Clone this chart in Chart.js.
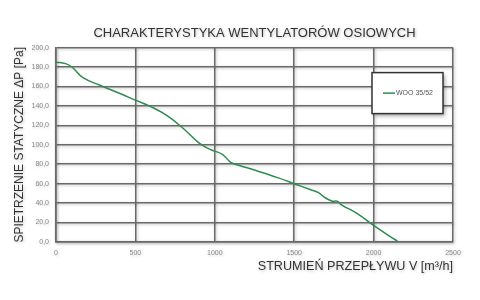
<!DOCTYPE html>
<html>
<head>
<meta charset="utf-8">
<script src="https://cdn.jsdelivr.net/npm/chart.js@4/dist/chart.umd.min.js"></script>
<style>
  html, body { margin: 0; padding: 0; background: #fff; }
  #wrap { width: 480px; height: 300px; }
</style>
</head>
<body>
<div id="wrap"><canvas id="fan-chart" width="480" height="300"></canvas></div>
<script>
const flowRates = [0, 60, 100, 170, 280, 400, 500, 600, 700, 800, 900, 960, 1000, 1050, 1100, 1150, 1250, 1400, 1500, 1600, 1650, 1700, 1740, 1770, 1800, 1900, 2000, 2100, 2150];
const staticPressure = [185, 183.5, 180, 169, 161, 153, 146, 139, 130, 117, 102, 96, 93.5, 90, 82, 79, 74, 66, 60, 54, 51, 45, 42, 42, 38, 29, 17, 6, 1];
const seriesLabel = "WOO 35/52";
const yTickLabels = ["0,0", "20,0", "40,0", "60,0", "80,0", "100,0", "120,0", "140,0", "160,0", "180,0", "200,0"];
const xTickLabels = ["0", "500", "1000", "1500", "2000", "2500"];

const GRID_COLOR = "#6a6a6a";
const TICK_COLOR = "#8a8a8a";
const LINE_COLOR = "#2e8c4f";
const FONT = "'Liberation Sans', Arial, sans-serif";

// soft shadow under the grid and labels, like the original print
const shadowPlugin = {
  id: "gridShadow",
  beforeDraw(chart) {
    const ctx = chart.ctx;
    ctx.shadowColor = "rgba(0, 0, 0, 0.25)";
    ctx.shadowBlur = 3;
    ctx.shadowOffsetX = 1;
    ctx.shadowOffsetY = 1;
  },
  beforeDatasetsDraw(chart) {
    const ctx = chart.ctx;
    ctx.shadowColor = "rgba(0, 0, 0, 0)";
    ctx.shadowBlur = 0;
    ctx.shadowOffsetX = 0;
    ctx.shadowOffsetY = 0;
  }
};

// legend box floating in the top right of the plot
const boxLegendPlugin = {
  id: "boxLegend",
  afterDatasetsDraw(chart) {
    const { ctx, chartArea } = chart;
    const ds = chart.data.datasets[0];
    const x = chartArea.right - 81;
    const y = chartArea.top + 25;
    const w = 71;
    const h = 41;
    ctx.save();
    ctx.shadowColor = "rgba(0, 0, 0, 0.35)";
    ctx.shadowBlur = 4;
    ctx.shadowOffsetX = 2;
    ctx.shadowOffsetY = 2;
    ctx.fillStyle = "#fff";
    ctx.fillRect(x, y, w, h);
    ctx.shadowColor = "rgba(0, 0, 0, 0)";
    ctx.strokeStyle = "#333";
    ctx.lineWidth = 1.5;
    ctx.strokeRect(x, y, w, h);
    ctx.strokeStyle = ds.borderColor;
    ctx.lineWidth = 1.5;
    ctx.beginPath();
    ctx.moveTo(x + 11, y + h / 2);
    ctx.lineTo(x + 23, y + h / 2);
    ctx.stroke();
    ctx.fillStyle = "#555";
    ctx.font = "7px " + FONT;
    ctx.textBaseline = "middle";
    ctx.fillText(ds.label, x + 24, y + h / 2);
    ctx.restore();
  }
};

new Chart(document.getElementById("fan-chart").getContext("2d"), {
  type: "line",
  data: {
    datasets: [{
      label: seriesLabel,
      data: flowRates.map((v, i) => ({ x: v, y: staticPressure[i] })),
      borderColor: LINE_COLOR,
      borderWidth: 1.5,
      pointRadius: 0,
      tension: 0.4,
      fill: false
    }]
  },
  options: {
    responsive: false,
    animation: false,
    devicePixelRatio: 1,
    layout: { padding: { left: 0, right: 27, top: 0, bottom: 0 } },
    plugins: {
      legend: { display: false },
      tooltip: { enabled: false },
      title: {
        display: true,
        fullSize: false,
        text: "CHARAKTERYSTYKA WENTYLATORÓW OSIOWYCH",
        color: "#333",
        font: { family: FONT, size: 13, weight: "normal" },
        padding: { top: 26, bottom: 6 }
      }
    },
    scales: {
      x: {
        type: "linear",
        min: 0,
        max: 2500,
        afterBuildTicks(scale) {
          scale.ticks = xTickLabels.map((t) => ({ value: Number(t) }));
        },
        afterFit(scale) { scale.height = 58; },
        ticks: {
          color: TICK_COLOR,
          font: { family: FONT, size: 7 },
          padding: 7,
          maxRotation: 0,
          callback(value, index) { return xTickLabels[index]; }
        },
        grid: { color: GRID_COLOR, lineWidth: 1.5, drawTicks: false },
        border: { color: GRID_COLOR, width: 1.5 },
        title: {
          display: true,
          text: "STRUMIEŃ PRZEPŁYWU V [m³/h]",
          align: "end",
          color: "#333",
          font: { family: FONT, size: 12.6 },
          padding: { top: 0, bottom: 26 }
        }
      },
      y: {
        type: "linear",
        min: 0,
        max: 200,
        afterBuildTicks(scale) {
          scale.ticks = yTickLabels.map((t) => ({ value: Number(t.replace(",", ".")) }));
        },
        afterFit(scale) { scale.width = 56; },
        ticks: {
          color: TICK_COLOR,
          font: { family: FONT, size: 7 },
          padding: 7,
          callback(value, index) { return yTickLabels[index]; }
        },
        grid: { color: GRID_COLOR, lineWidth: 1.5, drawTicks: false },
        border: { color: GRID_COLOR, width: 1.5 },
        title: {
          display: true,
          text: "SPIETRZENIE STATYCZNE ΔP [Pa]",
          color: "#333",
          font: { family: FONT, size: 12 },
          padding: { top: 12, bottom: 0 }
        }
      }
    }
  },
  plugins: [shadowPlugin, boxLegendPlugin]
});
</script>
</body>
</html>
